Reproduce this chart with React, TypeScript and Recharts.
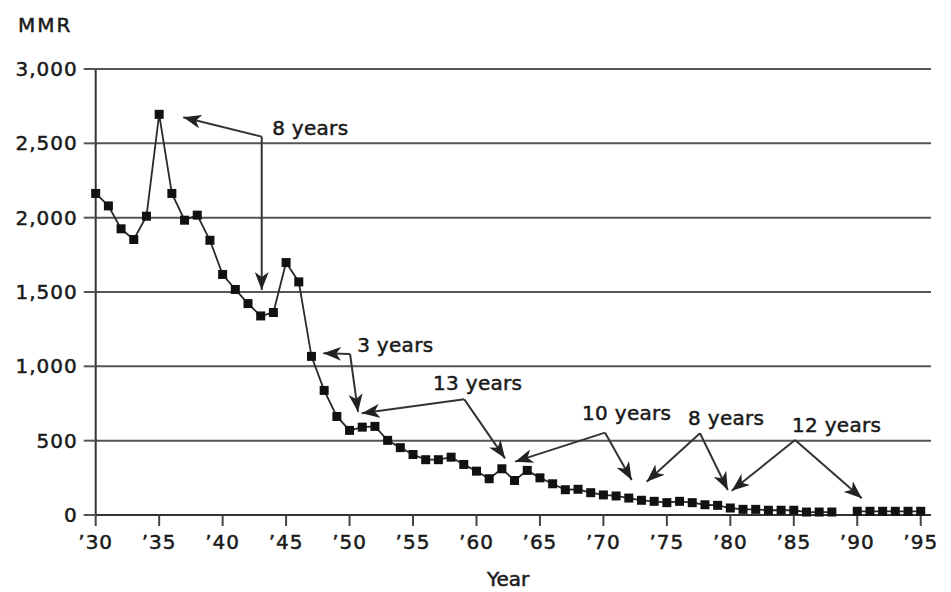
import React from "react";
import {
  CartesianGrid,
  Line,
  LineChart,
  ReferenceDot,
  ReferenceLine,
  XAxis,
  YAxis,
} from "recharts";

const years = [
  1930, 1931, 1932, 1933, 1934, 1935, 1936, 1937, 1938, 1939,
  1940, 1941, 1942, 1943, 1944, 1945, 1946, 1947, 1948, 1949,
  1950, 1951, 1952, 1953, 1954, 1955, 1956, 1957, 1958, 1959,
  1960, 1961, 1962, 1963, 1964, 1965, 1966, 1967, 1968, 1969,
  1970, 1971, 1972, 1973, 1974, 1975, 1976, 1977, 1978, 1979,
  1980, 1981, 1982, 1983, 1984, 1985, 1986, 1987, 1988, 1989,
  1990, 1991, 1992, 1993, 1994, 1995,
];

// maternal mortality ratio (1989 missing)
const mmr: (number | null)[] = [
  2163, 2079, 1925, 1853, 2010, 2695, 2163, 1983, 2017, 1848,
  1618, 1517, 1422, 1339, 1362, 1698, 1568, 1067, 838, 663,
  569, 591, 596, 502, 453, 407, 372, 372, 389, 340,
  295, 244, 311, 232, 300, 250, 210, 170, 173, 150,
  135, 128, 114, 99, 92, 83, 92, 83, 69, 65,
  47, 38, 38, 32, 32, 32, 20, 20, 20, null,
  25, 25, 25, 25, 25, 25,
];

const yearTicks = [1930, 1935, 1940, 1945, 1950, 1955, 1960, 1965, 1970, 1975, 1980, 1985, 1990, 1995];
const mmrTicks = [0, 500, 1000, 1500, 2000, 2500, 3000];

// "n years" callouts: label anchor, arrow corner and arrow tips, in (year, MMR)
type Pt = [number, number];
type Note = { label: string; at: Pt; corner: Pt; tips: Pt[] };
const notes: Note[] = [
  { label: "8 years", at: [1943.9, 2603], corner: [1943.08, 2545], tips: [[1936.9, 2675], [1943.08, 1513]] },
  { label: "3 years", at: [1950.6, 1143], corner: [1950.04, 1083], tips: [[1947.93, 1088], [1950.67, 693]] },
  { label: "13 years", at: [1956.58, 888], corner: [1959.04, 778], tips: [[1950.96, 684], [1962.25, 381]] },
  { label: "10 years", at: [1968.32, 686], corner: [1970.13, 554], tips: [[1963.04, 359], [1972.23, 235]] },
  { label: "8 years", at: [1976.67, 652], corner: [1977.61, 550], tips: [[1973.41, 224], [1979.8, 168]] },
  { label: "12 years", at: [1984.86, 605], corner: [1985.1, 504], tips: [[1980.11, 163], [1990.36, 112]] },
];

const rows = years.map((year, i) => ({ year, mmr: mmr[i] }));

const FONT = "DejaVu Sans";
const INK = "#1a1a1a";

const Square = (p: any) => {
  const { cx, cy, index } = p;
  if (cx == null || cy == null || p.payload?.mmr == null) return <g key={`d${index}`} />;
  return <rect key={`d${index}`} x={cx - 4.5} y={cy - 4.5} width={9} height={9} fill="#111" />;
};

const Arrow = (p: any) => (
  <line
    x1={p.x1}
    y1={p.y1}
    x2={p.x2}
    y2={p.y2}
    stroke="#333"
    strokeWidth={2}
    markerEnd="url(#arrowHead)"
  />
);

const Label = (text: string) => (p: any) => (
  <text
    x={p.cx}
    y={p.cy}
    dy="0.36em"
    fill={INK}
    stroke={INK}
    strokeWidth={0.5}
    fontSize={20}
    fontFamily={FONT}
    letterSpacing={0.3}
  >
    {text}
  </text>
);

const tickStyle = { fill: INK, stroke: INK, strokeWidth: 0.5, fontSize: 20, fontFamily: FONT, letterSpacing: 1 };

const titleStyle: React.CSSProperties = {
  position: "absolute",
  fontFamily: FONT,
  fontSize: 20,
  lineHeight: "20px",
  color: INK,
  WebkitTextStroke: "0.5px #1a1a1a",
};

export default function App() {
  return (
    <div style={{ position: "absolute", left: 0, top: 0, width: 951, height: 592, background: "#fff" }}>
      <svg width={0} height={0} style={{ position: "absolute" }}>
        <defs>
          <marker
            id="arrowHead"
            markerUnits="userSpaceOnUse"
            markerWidth={18}
            markerHeight={14}
            viewBox="0 0 18 14"
            refX={18}
            refY={7}
            orient="auto"
          >
            <path d="M0,0 L18,7 L0,14 L5,7 Z" fill="#222" />
          </marker>
        </defs>
      </svg>

      <div style={{ ...titleStyle, left: 18, top: 15, letterSpacing: 2 }}>MMR</div>
      <div style={{ ...titleStyle, left: 487, top: 569 }}>Year</div>

      <LineChart width={951} height={592} data={rows} margin={{ top: 69, right: 20, left: 0, bottom: 47 }}>
        <CartesianGrid stroke="#555" strokeWidth={2} vertical={false} />
        <XAxis
          dataKey="year"
          type="number"
          domain={[1930, 1995.81]}
          ticks={yearTicks}
          interval={0}
          height={30}
          tickSize={11}
          tickMargin={9}
          axisLine={{ stroke: "#333", strokeWidth: 2 }}
          tickLine={{ stroke: "#444", strokeWidth: 2 }}
          tick={tickStyle}
          tickFormatter={(v) => "\u2019" + String(v).slice(2)}
        />
        <YAxis
          type="number"
          domain={[0, 3000]}
          ticks={mmrTicks}
          interval={0}
          width={95.7}
          tickSize={12}
          tickMargin={6}
          axisLine={{ stroke: "#333", strokeWidth: 2 }}
          tickLine={{ stroke: "#555", strokeWidth: 2 }}
          tick={tickStyle}
          tickFormatter={(v) => Number(v).toLocaleString("en-US")}
        />
        <Line
          type="linear"
          dataKey="mmr"
          stroke="#2a2a2a"
          strokeWidth={1.8}
          dot={Square}
          activeDot={false}
          connectNulls={false}
          isAnimationActive={false}
        />
        {notes.flatMap((n, i) =>
          n.tips.map((t, j) => (
            <ReferenceLine
              key={`a${i}-${j}`}
              segment={[
                { x: n.corner[0], y: n.corner[1] },
                { x: t[0], y: t[1] },
              ]}
              shape={Arrow}
            />
          ))
        )}
        {notes.map((n, i) => (
          <ReferenceDot key={`t${i}`} x={n.at[0]} y={n.at[1]} r={0} shape={Label(n.label)} />
        ))}
      </LineChart>
    </div>
  );
}
